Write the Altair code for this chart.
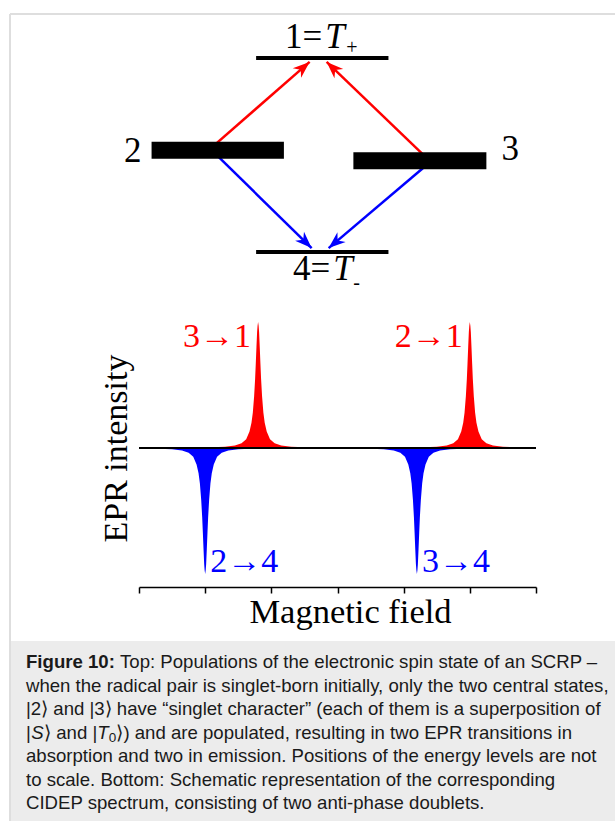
import math
import altair as alt
import pandas as pd

# ---------------- data ----------------
# Energy-level diagram (top): energies (arb. units) and horizontal extents (field units)
level_name = ["1", "2", "3", "4"]
level_energy = [1.0, 0.05, -0.06, -1.0]
level_x0 = [1.77, 0.19, 3.24, 1.77]
level_x1 = [3.77, 2.19, 5.25, 3.77]
level_kind = ["thin", "thick", "thick", "thin"]

# EPR transitions drawn as arrows
arrow_from_x = [1.053, 4.393, 1.098, 4.423]
arrow_from_E = [0.05, -0.06, 0.05, -0.06]
arrow_to_x = [2.579, 2.836, 2.609, 2.866]
arrow_to_E = [0.96, 0.96, -0.96, -0.96]
arrow_type = ["abs", "abs", "em", "em"]

# CIDEP spectrum (bottom)
peak_pos = [1.0, 1.8, 4.2, 5.0]
peak_amp = [-1.0, 1.0, -1.0, 1.0]
peak_label = ["2→4", "3→1", "3→4", "2→1"]
peak_type = ["em", "abs", "em", "abs"]
# line shape: offset from line centre (field units), relative height
shape_offset = [-0.8, -0.5, -0.35, -0.25, -0.18, -0.13, -0.1, -0.08, -0.06, -0.045,
                -0.035, -0.025, -0.015, -0.008, 0.0, 0.008, 0.015, 0.025, 0.035, 0.045,
                0.06, 0.08, 0.1, 0.13, 0.18, 0.25, 0.35, 0.5, 0.8]
shape_height = [0.004, 0.01, 0.02, 0.038, 0.07, 0.13, 0.2, 0.28, 0.41, 0.55,
                0.67, 0.8, 0.92, 0.97, 1.0, 0.97, 0.92, 0.8, 0.67, 0.55,
                0.41, 0.28, 0.2, 0.13, 0.07, 0.038, 0.02, 0.01, 0.004]
field_ticks = [0, 1, 2, 3, 4, 5, 6]

caption_bold = "Figure 10:"
caption_l1 = "Top: Populations of the electronic spin state of an SCRP –"
caption_l2 = "when the radical pair is singlet-born initially, only the two central states,"
caption_l3 = "|2⟩ and |3⟩ have “singlet character” (each of them is a superposition of"
caption_l4 = ["|", "S", "⟩ and |", "T", "0", "⟩) and are populated, resulting in two EPR transitions in"]
caption_l5 = "absorption and two in emission. Positions of the energy levels are not"
caption_l6 = "to scale. Bottom: Schematic representation of the corresponding"
caption_l7 = "CIDEP spectrum, consisting of two anti-phase doublets."

# ---------------- layout / style ----------------
W, H = 397, 573
PAD = {"left": 139, "top": 14, "right": 79, "bottom": 234}
XDOM = [0, 6]
YDOM = [-1.1032, 3.4444]      # spectrum intensity scale
EDOM = [-4.4536, 1.4536]      # energy scale of the diagram
PXX = W / (XDOM[1] - XDOM[0])
PXE = H / (EDOM[1] - EDOM[0])
SERIF = "Liberation Serif"
SANS = "Liberation Sans"
RED, BLUE = "#ff0000", "#0000ff"
col_scale = alt.Scale(domain=["abs", "em"], range=[RED, BLUE])
xs = alt.Scale(domain=XDOM, nice=False, zero=False)
es = alt.Scale(domain=EDOM, nice=False, zero=False)
ys = alt.Scale(domain=YDOM, nice=False, zero=False)
one = pd.DataFrame({"k": [0]})

# ---------------- tables ----------------
levels = pd.DataFrame({"name": level_name, "E": level_energy, "x0": level_x0,
                       "x1": level_x1, "kind": level_kind})
levels["xc"] = (levels["x0"] + levels["x1"]) / 2

arrows = pd.DataFrame({"x0": arrow_from_x, "E0": arrow_from_E, "x1": arrow_to_x,
                       "E1": arrow_to_E, "type": arrow_type})
arrows["angle"] = [
    (math.degrees(math.atan2((b - a) * PXX, (f - e) * PXE)) + 360) % 360
    for a, b, e, f in zip(arrows.x0, arrows.x1, arrows.E0, arrows.E1)
]

rows = []
for p, a, t in zip(peak_pos, peak_amp, peak_type):
    for o, h in zip(shape_offset, shape_height):
        rows.append({"peak": p, "type": t, "x": p + o, "y": a * h})
spec = pd.DataFrame(rows)
peaks = pd.DataFrame({"x": peak_pos, "y": peak_amp, "label": peak_label, "type": peak_type})

# ---------------- decorations ----------------
border_top = alt.Chart(one).mark_rule(color="#dedede", strokeWidth=2).encode(
    x=alt.value(-129), x2=alt.value(476), y=alt.value(0))
border_left = alt.Chart(one).mark_rule(color="#dedede", strokeWidth=2).encode(
    x=alt.value(-129), y=alt.value(0), y2=alt.value(807))
cap_box = alt.Chart(one).mark_rect(color="#ececec").encode(
    x=alt.value(-128), x2=alt.value(476), y=alt.value(627), y2=alt.value(807))

CF = 18.6
SC = CF / 18
CX = -113
CY0, CLH = 648, 23.5
cap_layers = []


def ctext(txt, x, y, **kw):
    props = dict(font=SANS, fontSize=CF, color="#1a1a1a", align="left", baseline="middle")
    props.update(kw)
    return alt.Chart(one).mark_text(**props).encode(
        x=alt.value(x), y=alt.value(y), text=alt.value(txt))


cap_layers.append(ctext(caption_bold, CX, CY0, fontWeight="bold"))
cap_layers.append(ctext(caption_l1, CX + 91 * SC, CY0))
for i, t in [(1, caption_l2), (2, caption_l3), (4, caption_l5), (5, caption_l6), (6, caption_l7)]:
    cap_layers.append(ctext(t, CX, CY0 + CLH * i))
y4 = CY0 + CLH * 3
seg_x = [CX + d * SC for d in [0, 5.2, 17.5, 69, 80, 87.5]]
seg_style = [{}, {"fontStyle": "italic"}, {}, {"fontStyle": "italic"},
             {"fontSize": 13.5, "dy": 5}, {}]
for t, sx, st in zip(caption_l4, seg_x, seg_style):
    cap_layers.append(ctext(t, sx, y4, **st))

# ---------------- energy diagram ----------------
arrow_lines = alt.Chart(arrows).mark_rule(strokeWidth=2.5).encode(
    x=alt.X("x0:Q", scale=xs, axis=None), x2="x1:Q",
    y=alt.Y("E0:Q", scale=es, axis=None), y2="E1:Q",
    color=alt.Color("type:N", scale=col_scale, legend=None))

head_path = "M0,0 L0.62,1.65 L0,1.15 L-0.62,1.65 Z"
arrow_heads = alt.Chart(arrows).mark_point(shape=head_path, filled=True, size=420,
                                           opacity=1, strokeWidth=0).encode(
    x=alt.X("x1:Q", scale=xs, axis=None),
    y=alt.Y("E1:Q", scale=es, axis=None),
    angle=alt.Angle("angle:Q", scale=None),
    color=alt.Color("type:N", scale=col_scale, legend=None))

lev_thin = alt.Chart(levels).transform_filter("datum.kind == 'thin'").mark_rule(
    color="black", strokeWidth=4, strokeCap="butt").encode(
    x=alt.X("x0:Q", scale=xs, axis=None), x2="x1:Q",
    y=alt.Y("E:Q", scale=es, axis=None))
lev_thick = alt.Chart(levels).transform_filter("datum.kind == 'thick'").mark_rule(
    color="black", strokeWidth=17, strokeCap="butt").encode(
    x=alt.X("x0:Q", scale=xs, axis=None), x2="x1:Q",
    y=alt.Y("E:Q", scale=es, axis=None))


def lev_text(name, txt, xfield, **kw):
    props = dict(font=SERIF, fontSize=35, color="black")
    props.update(kw)
    return alt.Chart(levels).transform_filter(f"datum.name == '{name}'").mark_text(**props).encode(
        x=alt.X(f"{xfield}:Q", scale=xs, axis=None),
        y=alt.Y("E:Q", scale=es, axis=None),
        text=alt.value(txt))


lev_labels = [
    lev_text("2", "2", "x0", align="right", baseline="middle", dx=-10, dy=1),
    lev_text("3", "3", "x1", align="left", baseline="middle", dx=15, dy=-12),
    lev_text("1", "1=", "xc", align="right", baseline="alphabetic", dx=0, dy=-10),
    lev_text("1", "T", "xc", align="left", baseline="alphabetic", dx=3, dy=-10, fontStyle="italic"),
    lev_text("1", "+", "xc", align="left", baseline="middle", dx=24, dy=-10, fontSize=20),
    lev_text("4", "4=", "xc", align="right", baseline="alphabetic", dx=8, dy=28),
    lev_text("4", "T", "xc", align="left", baseline="alphabetic", dx=11, dy=28, fontStyle="italic"),
    lev_text("4", "-", "xc", align="left", baseline="middle", dx=31, dy=31, fontSize=20),
]

# ---------------- spectrum ----------------
area = alt.Chart(spec).mark_area(interpolate="linear").encode(
    x=alt.X("x:Q", scale=xs,
            axis=alt.Axis(values=field_ticks, labels=False, grid=False, domainColor="black",
                          domainWidth=1.5, tickColor="black", tickWidth=1.5, tickSize=6,
                          title="Magnetic field", titleFont=SERIF, titleFontSize=34.5,
                          titleFontWeight="normal", titleColor="black", titleX=211,
                          titleY=35, titleAlign="center", titleBaseline="alphabetic")),
    y=alt.Y("y:Q", scale=ys,
            axis=alt.Axis(orient="left", domain=False, ticks=False, labels=False, grid=False,
                          title="EPR intensity", titleFont=SERIF, titleFontSize=34,
                          titleFontWeight="normal", titleColor="black", titleAngle=270,
                          titleX=-13, titleY=434, titleAlign="center",
                          titleBaseline="alphabetic")),
    y2=alt.datum(0),
    detail="peak:N",
    color=alt.Color("type:N", scale=col_scale, legend=None))

baseline = alt.Chart(one).mark_rule(color="black", strokeWidth=2).encode(
    x=alt.X(datum=field_ticks[0], scale=xs, axis=None),
    x2=alt.datum(field_ticks[-1]),
    y=alt.Y(datum=0, scale=ys, axis=None))

lab_pos = alt.Chart(peaks).transform_filter("datum.y > 0").mark_text(
    font=SERIF, fontSize=34, align="right", baseline="middle", dx=-7, dy=15).encode(
    x=alt.X("x:Q", scale=xs, axis=None), y=alt.Y("y:Q", scale=ys, axis=None),
    text="label:N", color=alt.Color("type:N", scale=col_scale, legend=None))
lab_neg = alt.Chart(peaks).transform_filter("datum.y < 0").mark_text(
    font=SERIF, fontSize=34, align="left", baseline="middle", dx=5, dy=-12).encode(
    x=alt.X("x:Q", scale=xs, axis=None), y=alt.Y("y:Q", scale=ys, axis=None),
    text="label:N", color=alt.Color("type:N", scale=col_scale, legend=None))

chart = alt.layer(
    cap_box, border_top, border_left, *cap_layers,
    arrow_lines, lev_thin, lev_thick, arrow_heads, *lev_labels,
    area, baseline, lab_pos, lab_neg,
).resolve_scale(y="independent").resolve_axis(x="independent", y="independent").properties(
    width=W, height=H, padding=PAD, autosize=alt.AutoSizeParams(type="none"),
    background="white",
).configure_view(stroke=None)

chart.save("out.html", embed_options={"renderer": "svg", "actions": False})
